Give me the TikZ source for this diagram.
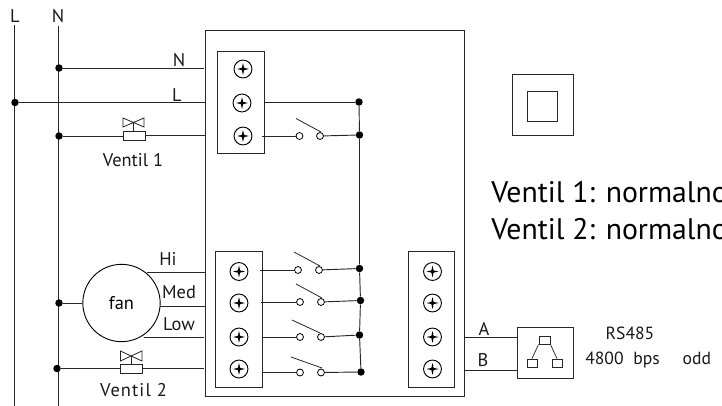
\documentclass[tikz,border=0pt]{standalone}
\usepackage{fontspec}
\setmainfont{PT Sans}
\tikzset{
  x=0.75pt,y=-0.75pt,
  wire/.style={line width=0.7pt,draw=black!85},
  dotn/.style={circle,fill=black,inner sep=0pt,minimum size=5.6pt},
  contact/.style={circle,draw=black,fill=white,line width=0.6pt,inner sep=0pt,minimum size=5.2pt},
  boxn/.style={draw=black!85,line width=0.7pt,rectangle,inner sep=0pt,fill=none},
  lab/.style={inner sep=0pt,font=\fontsize{13.8}{16}\selectfont,text=black!90},
  small/.style={inner sep=0pt,font=\fontsize{13.2}{16}\selectfont,text=black!90},
  big/.style={inner sep=0pt,anchor=base west,font=\fontsize{22.3}{26}\selectfont,text=black},
  screwn/.style={circle,draw=black,line width=0.7pt,minimum size=13.4pt,inner sep=0pt,
    path picture={\fill[black] (path picture bounding box.center) ++(-6,0) -- ++(4.9,-1.1) -- ++(1.1,-4.9) -- ++(1.1,4.9) -- ++(4.9,1.1) -- ++(-4.9,1.1) -- ++(-1.1,4.9) -- ++(-1.1,-4.9) -- cycle;}},
}
\newcommand{\boxat}[5]{\node[boxn,minimum width=#4*0.75pt,minimum height=#5*0.75pt] (#1) at (#2,#3) {};}
\begin{document}
\begin{tikzpicture}
\useasboundingbox (0,0) rectangle (722,406);
\clip (0,0) rectangle (722,406);
% main box and panels
\boxat{main}{334.5}{213}{259}{366}
\boxat{tt}{240.5}{102}{47}{102}
\boxat{tl}{238.5}{319}{47}{136}
\boxat{tr}{431}{319}{46}{136}
\boxat{sqo}{542.5}{104.5}{61}{61}
\boxat{sqi}{542}{106}{30}{30}
\boxat{rs}{545}{352.5}{56}{51}
\boxat{rst}{544.5}{340}{11}{8}
\boxat{rsl}{532}{363}{10}{8}
\boxat{rsr}{557}{363}{10}{8}
\draw[wire,line width=0.55pt] (rst.south west) -- (rsl.north);
\draw[wire,line width=0.55pt] (rst.south east) -- (rsr.north);
% mains
\coordinate (Ltop) at (14.5,25); \coordinate (Lbot) at (14.5,406);
\coordinate (Ntop) at (58.5,26); \coordinate (Nbot) at (58.5,406);
\draw[wire] (Ltop) -- (Lbot);
\draw[wire] (Ntop) -- (Nbot);
\node[lab] (Lt) at (15,16) {L};
\node[lab] (Nt) at (58,16) {N};
\node[dotn] (d1) at (59,68) {};
\node[dotn] (d2) at (15,102.5) {};
\node[dotn] (d3) at (59,136) {};
\node[dotn] (d4) at (59,303) {};
\node[dotn] (d5) at (57,368.5) {};
\coordinate (e1) at (204,68); \coordinate (e2) at (205,102.5);
\coordinate (e3) at (205,135);
\draw[wire] (d1) -- (e1);
\draw[wire] (d2) -- (e2);
\node[lab] (ln) at (179,60) {N};
\node[lab] (ll) at (177,95) {L};
% valve 1
\boxat{v1}{134}{135.5}{22}{9}
\draw[wire] (d3) -- (v1.west|-d3);
\draw[wire] (v1.east|-e3) -- (e3);
\coordinate (b1) at (133.5,122.5);
\draw[wire,line width=0.6pt] (v1.north-|b1) -- (b1);
\draw[wire,line width=0.6pt] (b1) -- (123,118) -- (123,127) -- (b1) -- (144,118) -- (144,127) -- cycle;
\node[lab] (v1l) at (133,160) {Ventil 1};
% fan
\node[draw=black,line width=0.7pt,circle,minimum size=58pt,inner sep=0pt,font=\fontsize{13.8}{16}\selectfont] (fan) at (121.5,303) {fan};
\draw[wire] (d4) -- (fan);
\coordinate (f1) at (147,272); \coordinate (g1) at (206,272);
\coordinate (f2) at (160,306); \coordinate (g2) at (205,306);
\coordinate (f3) at (144,337); \coordinate (g3) at (204,337);
\draw[wire] (f1) -- (g1);
\draw[wire] (f2) -- (g2);
\draw[wire] (f3) -- (g3);
\node[lab] (hi) at (168,259) {Hi};
\node[lab] (med) at (179,292) {Med};
\node[lab] (low) at (179,324) {Low};
% valve 2
\boxat{v2}{131}{368.5}{22}{9}
\coordinate (e5) at (204,368);
\draw[wire] (d5) -- (v2.west|-d5);
\draw[wire] (v2.east|-e5) -- (e5);
\coordinate (b2) at (131,356);
\draw[wire,line width=0.6pt] (v2.north-|b2) -- (b2);
\draw[wire,line width=0.6pt] (b2) -- (120.5,351) -- (120.5,361) -- (b2) -- (142,351) -- (142,361) -- cycle;
\node[lab] (v2l) at (133.5,390) {\addfontfeature{LetterSpace=6}Ventil 2};
% screws
\node[screwn] (s1) at (243,69) {};
\node[screwn] (s2) at (242,103) {};
\node[screwn] (s3) at (243,136) {};
\foreach \n/\y in {a/271.5,b/303,c/337,d/369}{
  \node[screwn] (l\n) at (239,\y) {};
  \node[screwn] (r\n) at (432.5,\y) {};
}
% right bus
\node[dotn] (p1) at (359,102) {};
\node[dotn] (p2) at (359.5,135) {};
\node[dotn] (q1) at (359.5,268.5) {};
\node[dotn] (q2) at (360.5,300.5) {};
\node[dotn] (q3) at (359.5,335) {};
\node[dotn] (q4) at (361,372) {};
\draw[wire] (p1) -- (p2) -- (q1) -- (q2) -- (q3) -- (q4);
\draw[wire] (tt.east|-p1) -- (p1);
% switches
\foreach \name/\ys/\xa/\xb/\xs/\dot/\lx/\ly/\mx/\my in {
  u/136/299.5/320/262/p2/296/118.5/321/132,
  a/270/298/319/260/q1/294/252/320/266,
  b/302/300/321/261/q2/296/284/322/298,
  c/337/300/321/262/q3/292/320/320/333,
  d/372.5/300/321/262/q4/291/357/322/368}{
  \node[contact] (c\name1) at (\xa,\ys) {};
  \node[contact] (c\name2) at (\xb,\ys) {};
  \coordinate (st\name) at (\xs,\ys);
  \coordinate (la\name) at (\lx,\ly);
  \coordinate (lb\name) at (\mx,\my);
  \draw[wire] (st\name) -- (c\name1);
  \draw[wire] (c\name2) -- (\dot);
  \draw[wire,line width=0.6pt] (la\name) -- (lb\name);
}
% RS485
\coordinate (ra) at (464,337.5); \coordinate (rb) at (464,370);
\draw[wire] (ra) -- (rs.west|-ra);
\draw[wire] (rb) -- (rs.west|-rb);
\node[lab] (A) at (484,329) {A};
\node[lab] (B) at (483,360) {B};
\node[small] (t485) at (630,333) {RS485};
\node[small,anchor=west] (baud) at (585,360) {4800\hspace{0.55em}bps\hspace{1.3em}odd};
% text
\node[big] (t1) at (491,203) {Ventil 1: normalno};
\node[big] (t2) at (491,240) {Ventil 2: normalno};
\end{tikzpicture}
\end{document}
